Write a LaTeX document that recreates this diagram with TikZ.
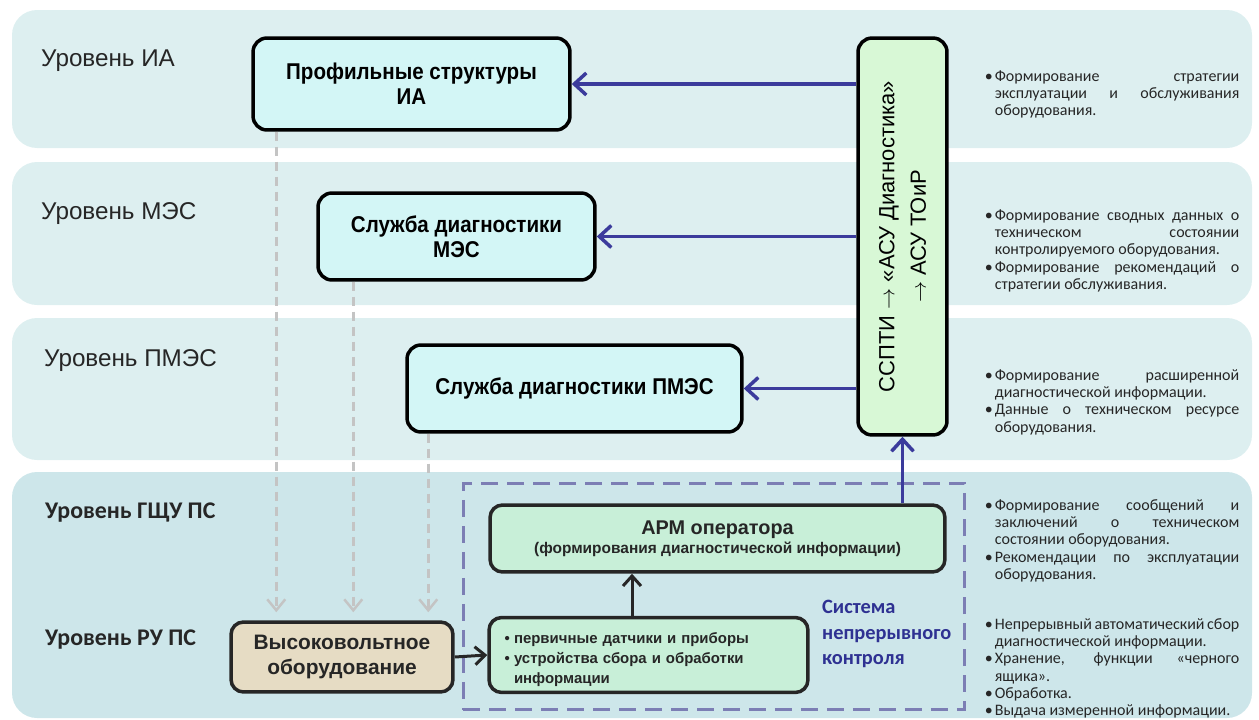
\documentclass[tikz,border=0pt]{standalone}
\usepackage{fontspec}
\setmainfont{Liberation Sans}
\newfontfamily\calibrifont{Carlito}
\newfontfamily\narrowfont[FakeStretch=0.9]{Liberation Sans}
\usetikzlibrary{arrows.meta}

\definecolor{bandtop}{HTML}{DDEFF0}
\definecolor{bandlow}{HTML}{CDE6EA}
\definecolor{boxcyan}{HTML}{D3F6F6}
\definecolor{boxmint}{HTML}{D8F8D6}
\definecolor{boxgreen}{HTML}{C8EFD8}
\definecolor{boxbeige}{HTML}{E6DCC4}
\definecolor{linkblue}{HTML}{3B3B9C}
\definecolor{framecol}{HTML}{7C7EB4}
\definecolor{dashgray}{HTML}{C4C4C4}
\definecolor{textdark}{HTML}{262626}
\definecolor{ctrlblue}{HTML}{2E3192}

% bullet with hanging indent
\newcommand\bul[2][0.25cm]{\par\noindent\hangindent=#1\hangafter=1%
  \makebox[#1][l]{\hspace{0.05cm}\textbullet}#2\par}
\newcommand\arr{\ensuremath{\rightarrow}}

\begin{document}
\begin{tikzpicture}[x=0.02cm,y=-0.02cm,>={Straight Barb[length=0.24cm,width=0.44cm]},
  band/.style={rounded corners=0.5cm},
  level/.style={anchor=west,text=textdark,font=\fontsize{13.8pt}{16pt}\selectfont},
  levelbold/.style={anchor=west,text=textdark,font=\calibrifont\bfseries\fontsize{13.6pt}{16pt}\selectfont},
  topbox/.style={draw=black,line width=0.07cm,rounded corners=0.28cm,fill=boxcyan,
    align=center,font=\narrowfont\bfseries\fontsize{13pt}{14.2pt}\selectfont},
  lowbox/.style={draw=textdark,line width=0.07cm,rounded corners=0.25cm,fill=boxgreen,
    text=textdark,font=\bfseries},
  note/.style={anchor=base west,inner sep=0pt,text width=5.14cm,align=justify,text=textdark,
    font=\calibrifont\fontsize{9.1pt}{9.85pt}\selectfont},
  bluearr/.style={->,draw=linkblue,line width=0.07cm},
  darkarr/.style={->,draw=textdark,line width=0.06cm,>={Straight Barb[length=0.2cm,width=0.36cm]}},
  grayarr/.style={->,draw=dashgray,line width=0.05cm,dash pattern=on 0.18cm off 0.12cm,
    shorten >=0.16cm,>={Straight Barb[length=0.22cm,width=0.36cm]}}]
\useasboundingbox (0,0) rectangle (1259,720);

% levels
\fill[bandtop,band] (12,10) rectangle (1252,148);
\fill[bandtop,band] (12,162) rectangle (1252,305);
\fill[bandtop,band] (12,318) rectangle (1252,460);
\fill[bandlow,band] (12,472) rectangle (1252,718);

\node[level] (lia) at (35,61) {Уровень ИА};
\node[level] (lmes) at (35,214) {Уровень МЭС};
\node[level] (lpmes) at (38,361) {Уровень ПМЭС};
\node[levelbold] (lgschu) at (39,513) {Уровень ГЩУ ПС};
\node[levelbold] (lru) at (39,640) {Уровень РУ ПС};

% continuous control system
\node[draw=framecol,line width=0.06cm,dash pattern=on 0.34cm off 0.18cm,inner sep=0pt,
  minimum width=10.04cm,minimum height=4.54cm] (ctrl) at (714,596.5) {};
\node[anchor=west,align=left,text=ctrlblue,
  font=\calibrifont\bfseries\fontsize{11.6pt}{14.5pt}\selectfont] (ctrllab) at (816,634)
  {Система\\непрерывного\\контроля};

% boxes
\node[topbox,minimum width=6.34cm,minimum height=1.84cm] (ia) at (411.5,84) {Профильные структуры\\ИА};
\node[topbox,minimum width=5.54cm,minimum height=1.74cm] (mes) at (456.5,236.5) {Служба диагностики\\МЭС};
\node[topbox,minimum width=6.7cm,minimum height=1.74cm] (pmes) at (574.5,388.5) {Служба диагностики ПМЭС};
\node[draw=black,line width=0.07cm,rounded corners=0.28cm,fill=boxmint,rotate=90,
  minimum width=7.94cm,minimum height=1.78cm,align=center,
  font=\fontsize{12.5pt}{18pt}\selectfont] (sspti) at (902.5,236.5)
  {ССПТИ \arr{} «АСУ Диагностика»\\\arr{} АСУ ТОиР};

\node[lowbox,minimum width=9.1cm,minimum height=1.34cm,align=center] (apm) at (717.5,538.5)
  {\fontsize{11.3pt}{14pt}\selectfont АРМ оператора\\[-1pt]
   \fontsize{8.8pt}{11pt}\selectfont (формирования диагностической информации)};
\node[lowbox,minimum width=6.38cm,minimum height=1.36cm,text width=5.86cm,align=left,
  font=\bfseries\fontsize{8.5pt}{11.4pt}\selectfont] (sens) at (648.5,655)
  {\bul[0.24cm]{первичные датчики и приборы}\bul[0.24cm]{устройства сбора и обработки информации}};
\node[lowbox,fill=boxbeige,minimum width=4.44cm,minimum height=1.4cm,align=center,
  font=\bfseries\fontsize{11.9pt}{14pt}\selectfont] (hv) at (342,657)
  {Высоковольтное\\оборудование};

% links
\draw[bluearr] (sspti.north |- ia.east) -- (ia.east);
\draw[bluearr] (sspti.north |- mes.east) -- (mes.east);
\draw[bluearr] (sspti.north |- pmes.east) -- (pmes.east);
\draw[bluearr] (apm.north -| sspti.west) -- (sspti.west);
\draw[darkarr] (hv.east) -- (sens.west);
\coordinate (up) at ([xshift=-0.33cm]sens.north);
\draw[darkarr] (up) -- (up |- apm.south);

\coordinate (g1) at ([xshift=0.5cm]ia.south west);
\coordinate (g2) at ([xshift=0.74cm]mes.south west);
\coordinate (g3) at ([xshift=0.46cm]pmes.south west);
\draw[grayarr] (g1) -- (g1 |- hv.north);
\draw[grayarr] (g2) -- (g2 |- hv.north);
\draw[grayarr] (g3) -- (g3 |- hv.north);

% notes
\node[note] (n1) at (982,64) {\bul{Формирование стратегии\linebreak эксплуатации и обслуживания\linebreak оборудования.}};
\node[note] (n2) at (982,203) {\bul{Формирование сводных данных о\linebreak техническом состоянии\linebreak контролируемого оборудования.}\bul{Формирование рекомендаций о\linebreak стратегии обслуживания.}};
\node[note] (n3) at (982,363) {\bul{Формирование расширенной\linebreak диагностической информации.}\bul{Данные о техническом ресурсе\linebreak оборудования.}};
\node[note] (n4) at (982,493) {\bul{Формирование сообщений и\linebreak заключений о техническом\linebreak состоянии оборудования.}\bul{Рекомендации по эксплуатации\linebreak оборудования.}};
\node[note] (n5) at (982,612) {\bul{Непрерывный автоматический сбор\linebreak диагностической информации.}\bul{Хранение, функции «черного\linebreak ящика».}\bul{Обработка.}\bul{Выдача измеренной информации.}};
\end{tikzpicture}
\end{document}
